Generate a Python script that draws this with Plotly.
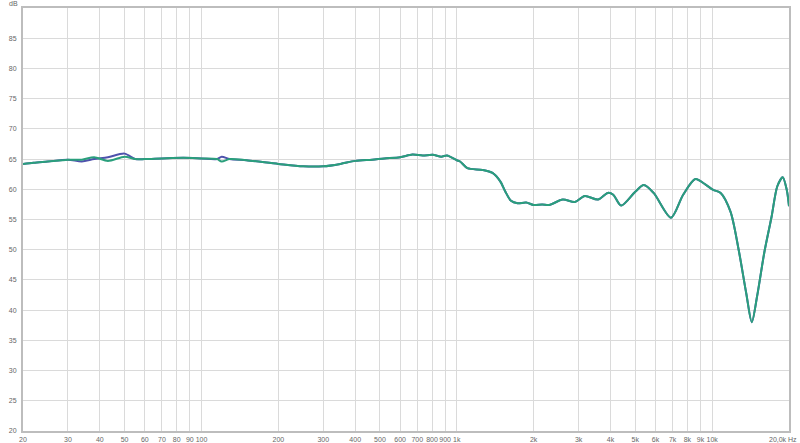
import plotly.graph_objects as go

freq = [20, 22, 25, 30, 34, 38, 43, 50, 55, 60, 70, 85, 100, 115, 120, 129, 150,
        200, 250, 300, 350, 400, 466, 520, 600, 670, 735, 805, 870, 915, 1000,
        1030, 1100, 1260, 1380, 1480, 1550, 1630, 1730, 1870, 2000, 2160, 2300,
        2600, 2900, 3170, 3570, 3900, 4100, 4400, 5000, 5400, 5900, 6900, 7700,
        8600, 9400, 10100, 10800, 11800, 12700, 13600, 14300, 15000, 16000,
        17100, 18000, 18900, 19600, 20000]

green_db = [64.2, 64.4, 64.6, 64.9, 64.9, 65.3, 64.7, 65.4, 65.0, 65.0, 65.1, 65.2,
            65.1, 65.0, 64.6, 65.0, 64.8, 64.2, 63.8, 63.8, 64.2, 64.7, 64.9, 65.1,
            65.3, 65.75, 65.6, 65.7, 65.4, 65.6, 64.8, 64.6, 63.5, 63.2, 62.7, 61.3,
            59.6, 58.1, 57.7, 57.8, 57.4, 57.5, 57.4, 58.3, 57.9, 58.9, 58.3, 59.4,
            59.1, 57.3, 59.6, 60.7, 59.4, 55.3, 59.1, 61.7, 60.8, 59.9, 59.4, 56.3,
            50.0, 42.8, 38.0, 42.3, 49.5, 55.5, 60.5, 62.0, 59.9, 57.2]

blue_db = [64.2, 64.4, 64.6, 64.9, 64.6, 65.0, 65.3, 65.9, 65.0, 65.0, 65.1, 65.2,
           65.1, 65.0, 65.4, 65.0, 64.8, 64.2, 63.8, 63.8, 64.2, 64.7, 64.9, 65.1,
           65.3, 65.75, 65.6, 65.7, 65.4, 65.6, 64.8, 64.6, 63.5, 63.2, 62.7, 61.3,
           59.6, 58.1, 57.7, 57.8, 57.4, 57.5, 57.4, 58.3, 57.9, 58.9, 58.3, 59.4,
           59.1, 57.3, 59.6, 60.7, 59.4, 55.3, 59.1, 61.7, 60.8, 59.9, 59.4, 56.3,
           50.0, 42.8, 38.0, 42.3, 49.5, 55.5, 60.5, 62.0, 59.9, 57.2]

x_tickvals = [20, 30, 40, 50, 60, 70, 80, 90, 100, 200, 300, 400, 500, 600, 700,
              800, 900, 1000, 2000, 3000, 4000, 5000, 6000, 7000, 8000, 9000, 10000]
x_ticktext = ["20", "30", "40", "50", "60", "70", "80", "90", "100", "200", "300",
              "400", "500", "600", "700", "800", "900", "1k", "2k", "3k", "4k", "5k",
              "6k", "7k", "8k", "9k", "10k"]
y_tickvals = [20, 25, 30, 35, 40, 45, 50, 55, 60, 65, 70, 75, 80, 85]

fig = go.Figure()
fig.add_trace(go.Scatter(x=freq, y=blue_db, mode="lines", line=dict(color="#4f52ac", width=2, shape="spline", smoothing=0.8),
                         showlegend=False, hoverinfo="skip"))
fig.add_trace(go.Scatter(x=freq, y=green_db, mode="lines", line=dict(color="#2a9f7c", width=2, shape="spline", smoothing=0.8),
                         showlegend=False, hoverinfo="skip"))

fig.update_layout(
    width=800, height=443,
    margin=dict(l=23, r=11, t=8, b=12, autoexpand=False),
    paper_bgcolor="white", plot_bgcolor="white",
    font=dict(family="Liberation Sans, Arial, sans-serif", size=7, color="#666666"),
    xaxis=dict(type="log", range=[1.30103, 4.30103], tickvals=x_tickvals, ticktext=x_ticktext,
               tickangle=0, automargin=False,
               showgrid=True, gridcolor="#dadada", gridwidth=1, showline=True, linecolor="#bdbdbd",
               linewidth=2, mirror=True, ticks="", zeroline=False, ticklabelstandoff=1),
    yaxis=dict(range=[20, 90], tickvals=y_tickvals, showgrid=True, gridcolor="#dadada", gridwidth=1,
               automargin=False,
               showline=True, linecolor="#bdbdbd", linewidth=2, mirror=True, ticks="",
               zeroline=False, ticklabelstandoff=3),
    annotations=[
        dict(text="20,0k Hz", xref="paper", yref="paper", x=1, y=0, xshift=10, yshift=-3,
             xanchor="right", yanchor="top", showarrow=False, font=dict(size=7, color="#666666")),
        dict(text="dB", xref="paper", yref="paper", x=0, y=1, xshift=-3, yshift=5,
             xanchor="right", yanchor="middle", showarrow=False, font=dict(size=7, color="#666666")),
    ],
)

fig.write_html("out.html", config={"displayModeBar": False, "staticPlot": True},
               post_script="document.body.style.margin='0';document.body.style.overflow='hidden';")
